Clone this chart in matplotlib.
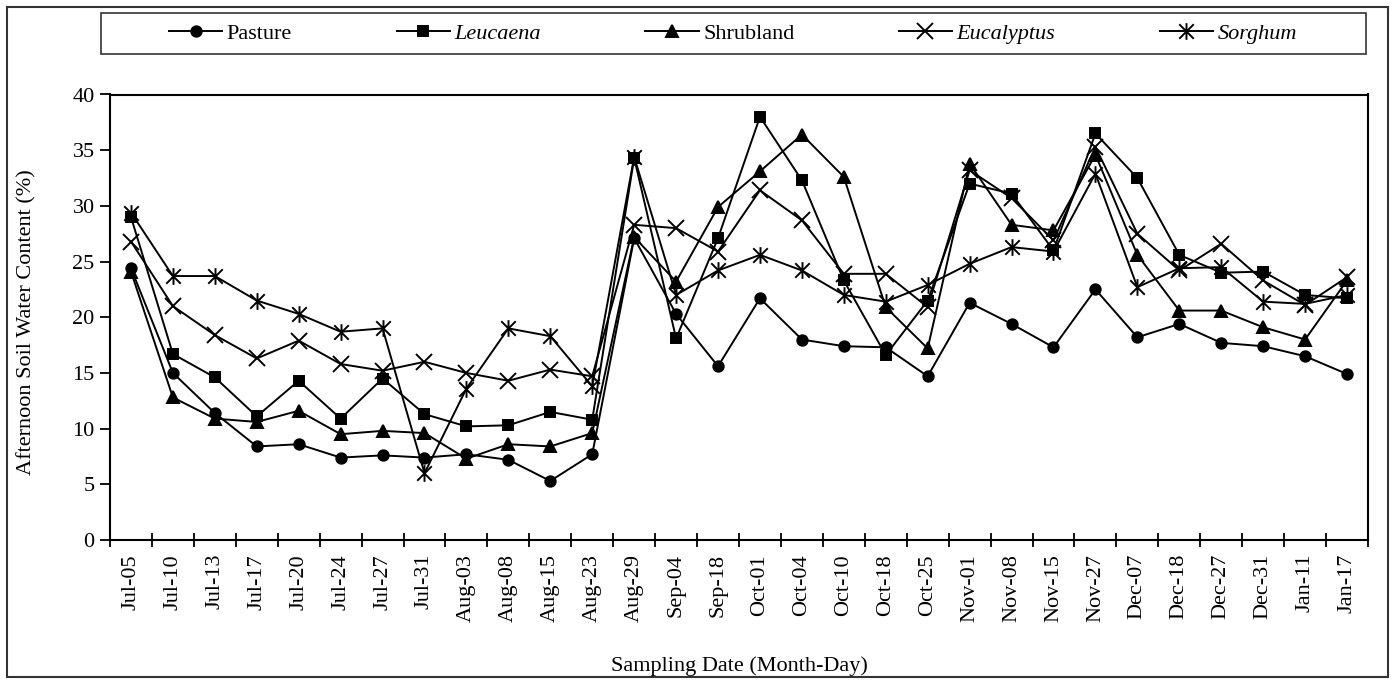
import numpy as np
import matplotlib
matplotlib.use('Agg')
import matplotlib.pyplot as plt
from matplotlib.path import Path
from matplotlib.patches import Rectangle

# sampling dates (category axis)
cats = ['Jul-05', 'Jul-10', 'Jul-13', 'Jul-17', 'Jul-20', 'Jul-24', 'Jul-27', 'Jul-31',
        'Aug-03', 'Aug-08', 'Aug-15', 'Aug-23', 'Aug-29', 'Sep-04', 'Sep-18', 'Oct-01',
        'Oct-04', 'Oct-10', 'Oct-18', 'Oct-25', 'Nov-01', 'Nov-08', 'Nov-15', 'Nov-27',
        'Dec-07', 'Dec-18', 'Dec-27', 'Dec-31', 'Jan-11', 'Jan-17']

# afternoon soil water content (%)
pasture = [24.4, 15.0, 11.4, 8.4, 8.6, 7.4, 7.6, 7.4, 7.7, 7.2, 5.3, 7.7, 27.1, 20.3, 15.6,
           21.7, 18.0, 17.4, 17.3, 14.7, 21.3, 19.4, 17.3, 22.5, 18.2, 19.4, 17.7, 17.4, 16.5, 14.9]
leucaena = [29.0, 16.7, 14.6, 11.1, 14.3, 10.9, 14.5, 11.3, 10.2, 10.3, 11.5, 10.8, 34.3, 18.1, 27.1,
            38.0, 32.3, 23.3, 16.6, 21.5, 32.0, 31.1, 26.0, 36.5, 32.5, 25.6, 24.0, 24.1, 22.0, 21.7]
shrubland = [24.1, 12.8, 10.9, 10.6, 11.6, 9.5, 9.8, 9.6, 7.3, 8.6, 8.4, 9.6, 27.2, 23.2, 29.9,
             33.1, 36.4, 32.6, 20.9, 17.2, 33.8, 28.3, 27.8, 34.6, 25.6, 20.6, 20.6, 19.1, 18.0, 23.3]
eucalyptus = [26.8, 21.0, 18.4, 16.3, 17.9, 15.8, 15.2, 16.0, 15.0, 14.3, 15.3, 14.7, 28.3, 28.0, 25.9,
              31.4, 28.7, 23.9, 23.9, 20.9, 33.2, 30.7, 26.9, 35.3, 27.5, 24.2, 26.6, 23.3, 21.1, 23.6]
sorghum = [29.4, 23.7, 23.7, 21.5, 20.3, 18.7, 19.0, 6.0, 13.6, 19.0, 18.3, 13.8, 34.4, 22.0, 24.2,
           25.6, 24.2, 22.0, 21.4, 22.9, 24.8, 26.3, 25.9, 32.9, 22.7, 24.4, 24.5, 21.4, 21.2, 22.0]

plt.rcParams['font.family'] = ['Liberation Serif', 'DejaVu Serif']
FS = 16

# excel style asterisk: an x with a vertical bar
asterisk = Path([(-1, -1), (1, 1), (-1, 1), (1, -1), (0, -1.15), (0, 1.15)],
                [Path.MOVETO, Path.LINETO] * 3)

W, H = 1393, 683
fig = plt.figure(figsize=(W / 100, H / 100), dpi=100)
ax = fig.add_axes([110 / W, 1 - 540 / H, 1258 / W, 445.5 / H])

x = np.arange(len(cats))
series = [
    (pasture, 'Pasture', 'o', 7.5, True),
    (leucaena, 'Leucaena', 's', 7.5, True),
    (shrubland, 'Shrubland', '^', 8.5, True),
    (eucalyptus, 'Eucalyptus', 'x', 11, False),
    (sorghum, 'Sorghum', asterisk, 12, False),
]
for vals, lab, m, ms, filled in series:
    ax.plot(x, vals, color='black', lw=1.4, marker=m, ms=ms,
            mfc='black' if filled else 'none', mec='black', mew=1.4, label=lab)

ax.set_xlim(-0.5, len(cats) - 0.5)
ax.set_ylim(0, 40)
ax.set_yticks(np.arange(0, 41, 5))
ax.set_xticks(np.arange(-0.5, len(cats), 1))
ax.set_xticklabels([])
ax.set_xticks(x, minor=True)
ax.set_xticklabels(cats, minor=True, rotation=90, fontsize=FS)
ax.tick_params(axis='x', which='minor', length=0, pad=10)
ax.tick_params(axis='x', which='major', direction='inout', length=10, width=1.3)
ax.tick_params(axis='y', direction='out', length=7, width=1.3, labelsize=FS, pad=4)
for sp in ax.spines.values():
    sp.set_linewidth(1.5)
    sp.set_color('black')

fig.text(27 / W, 1 - 322 / H, 'Afternoon Soil Water Content (%)', rotation=90,
         ha='center', va='center', fontsize=FS)
fig.text(739 / W, 1 - 666 / H, 'Sampling Date (Month-Day)', ha='center', va='center', fontsize=FS)

# legend and frames
leg = fig.legend(loc='center', bbox_to_anchor=(733 / W, 1 - 33.5 / H), ncol=5, frameon=False,
                 fontsize=FS, handlelength=2.4, handletextpad=0.2, columnspacing=4.7)
for t in leg.get_texts():
    if t.get_text() != 'Pasture' and t.get_text() != 'Shrubland':
        t.set_fontstyle('italic')
fig.add_artist(Rectangle((101 / W, 1 - 54 / H), 1265 / W, 41 / H, transform=fig.transFigure,
                         fill=False, ec='#333333', lw=1.2))
fig.add_artist(Rectangle((7 / W, 1 - 677 / H), 1381 / W, 670 / H, transform=fig.transFigure,
                         fill=False, ec='#333333', lw=1.5))

fig.savefig('out.png', dpi=100)
